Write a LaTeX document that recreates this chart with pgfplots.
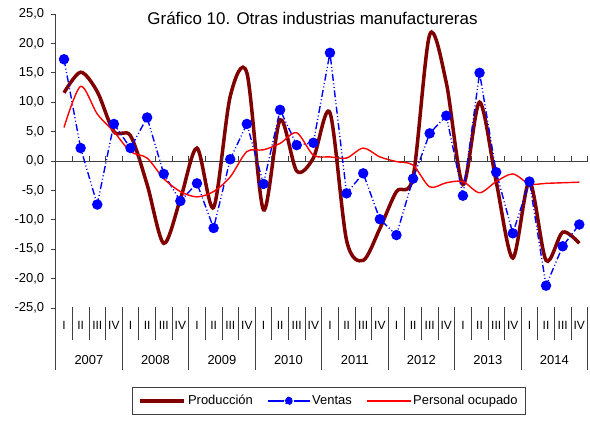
\documentclass[border=0pt]{standalone}
\usepackage{fontspec}
\setmainfont{Liberation Sans}
\usepackage{pgfplots}
\pgfplotsset{compat=1.18}
\definecolor{prodRed}{HTML}{800000}
\definecolor{ventBlue}{HTML}{0000FF}
\definecolor{persRed}{HTML}{FF0000}
\definecolor{axisGray}{HTML}{404040}

\begin{document}
\begin{tikzpicture}
\useasboundingbox (0,0) rectangle (590bp,422bp);
\begin{axis}[
    at={(55.7bp,114bp)}, anchor=south west,
    scale only axis, width=531.9bp, height=294bp,
    xmin=-0.5, xmax=31.5, ymin=-25, ymax=25,
    axis x line*=middle, axis y line*=left,
    axis line style={axisGray, line width=0.8bp},
    xtick=\empty,
    ytick={-25,-20,...,25},
    ytick align=outside, major tick length=5bp,
    tick style={axisGray, line width=0.8bp},
    y tick label style={/pgf/number format/.cd, fixed, fixed zerofill, precision=1,
        use comma, assume math mode=true, /tikz/.cd,
        font=\fontsize{13}{15}\selectfont, xshift=-3bp},
    legend style={at={(0.514,-0.269)}, anchor=north, legend columns=3,
        draw=axisGray, line width=0.6bp, font=\fontsize{13}{15}\selectfont,
        inner xsep=6bp, inner ysep=6bp,
        /tikz/every even column/.append style={column sep=12bp}},
]
\addplot[prodRed, line width=3.5bp, smooth, no marks,
    legend image code/.code={\draw[prodRed, solid, line width=3.5bp] (0bp,0bp) -- (44bp,0bp);}]
  coordinates {(0,11.6) (1,15.1) (2,11.8) (3,5.0) (4,4.3) (5,-4.0) (6,-14.0) (7,-6.5)
    (8,2.2) (9,-7.9) (10,11.0) (11,15.0) (12,-8.3) (13,7.0) (14,-1.7) (15,0.5)
    (16,8.2) (17,-13.5) (18,-16.9) (19,-11.5) (20,-5.2) (21,-2.7) (22,21.5) (23,13.3)
    (24,-4.0) (25,10.0) (26,-3.5) (27,-16.5) (28,-3.5) (29,-16.9) (30,-12.1) (31,-14.0)};
\addlegendentry{Producción}
\addplot[ventBlue, line width=1.4bp,
    dash pattern=on 7bp off 2.5bp on 1bp off 2.5bp on 1bp off 2.5bp,
    mark=*, mark size=4.5bp, mark options={solid, fill=ventBlue},
    legend image code/.code={\draw[ventBlue, solid, line width=1.4bp] (0bp,0bp) -- (16bp,0bp) (26bp,0bp) -- (42bp,0bp);
        \fill[ventBlue] (21bp,0bp) circle (3.5bp);}]
  coordinates {(0,17.3) (1,2.2) (2,-7.4) (3,6.3) (4,2.2) (5,7.4) (6,-2.2) (7,-6.8)
    (8,-3.8) (9,-11.4) (10,0.3) (11,6.3) (12,-3.9) (13,8.7) (14,2.7) (15,3.1)
    (16,18.4) (17,-5.5) (18,-2.1) (19,-9.9) (20,-12.6) (21,-3.0) (22,4.7) (23,7.7)
    (24,-5.9) (25,15.0) (26,-1.9) (27,-12.3) (28,-3.5) (29,-21.2) (30,-14.5) (31,-10.8)};
\addlegendentry{Ventas}
\addplot[persRed, line width=1.4bp, smooth, no marks,
    legend image code/.code={\draw[persRed, solid, line width=1.4bp] (0bp,0bp) -- (44bp,0bp);}]
  coordinates {(0,5.7) (1,12.7) (2,8.0) (3,5.0) (4,1.6) (5,0.5) (6,-3.0) (7,-5.2)
    (8,-6.1) (9,-5.2) (10,-2.7) (11,1.6) (12,1.9) (13,3.0) (14,4.8) (15,1.0)
    (16,0.7) (17,0.5) (18,2.2) (19,0.7) (20,-0.1) (21,-0.7) (22,-4.4) (23,-3.7)
    (24,-3.5) (25,-5.4) (26,-3.5) (27,-2.2) (28,-3.9) (29,-3.8) (30,-3.7) (31,-3.6)};
\addlegendentry{Personal ocupado}
\end{axis}

% category axis: quarter ticks, separators and labels
\begin{scope}[shift={(55.7bp,114bp)}, x=16.622bp, y=1bp]
  \foreach \j in {1,...,32} \draw[axisGray, line width=0.8bp] (\j,147) -- (\j,152);
  \foreach \j in {1,...,31} \draw[axisGray, line width=0.7bp] (\j,1) -- (\j,-32);
  \foreach \j in {0,4,...,32} \draw[axisGray, line width=0.7bp] (\j,1) -- (\j,-62);
  \foreach \y in {0,...,7}
    \foreach \q [count=\k from 0] in {I,II,III,IV}
      \node[font=\fontsize{12}{14}\selectfont] at (4*\y+\k+0.5,-17) {\q};
  \foreach \yr [count=\k from 0] in {2007,2008,2009,2010,2011,2012,2013,2014}
    \node[font=\fontsize{13}{15}\selectfont] at (4*\k+2,-52.5) {\yr};
\end{scope}

\node[font=\fontsize{17}{20}\selectfont] at (312.5bp,403.7bp) {Gráfico 10. Otras industrias manufactureras};
\end{tikzpicture}
\end{document}
